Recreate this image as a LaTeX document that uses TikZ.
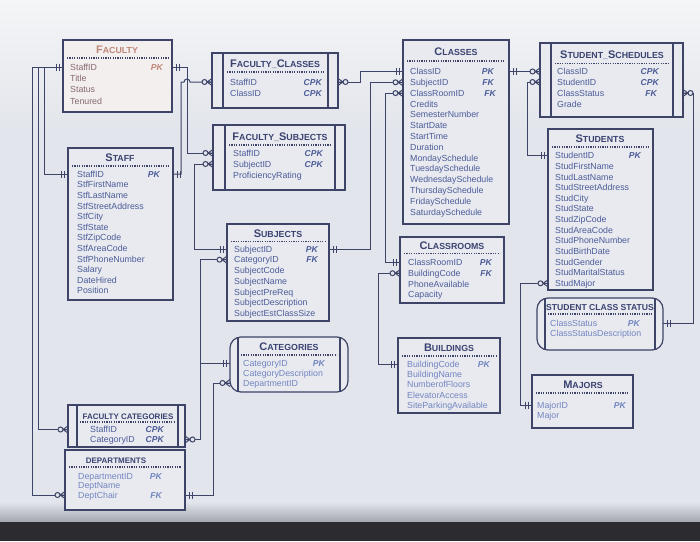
\documentclass[tikz,border=0pt]{standalone}
\usepackage{fontspec}
\setmainfont{Liberation Sans}
\usetikzlibrary{calc}
\definecolor{bgc}{HTML}{E2E5EB}
\definecolor{bgtop}{HTML}{F4F5F7}
\definecolor{boxc}{HTML}{E8EAF0}
\definecolor{linec}{HTML}{3D4468}
\definecolor{ttlc}{HTML}{3A4270}
\definecolor{fldc}{HTML}{4C5C98}
\definecolor{fldl}{HTML}{7385C0}
\definecolor{glarec}{HTML}{F3EFEF}
\definecolor{facc}{HTML}{C08676}
\definecolor{facd}{HTML}{866870}
\definecolor{bezel}{HTML}{2C2C30}
\definecolor{bezgray}{HTML}{A4A6AD}
\newcommand\scT[2]{{\fontsize{11}{11}\selectfont #1}{\fontsize{8.8}{9}\selectfont #2}}
\newcommand\flds[6][]{\foreach \fx [count=\i from 0] in {#6}
  {\node[fld,#1] (#2-\i) at (#3,{#4+\i*#5+3.2}) {\fx};}}
\newcommand\kk[4][]{\node[key,#1] (#2k) at (#2.base -| #3,0) {#4};}
\newcommand\ebx[6][]{\node[ebox,#1,minimum width={#5-#3},minimum height={#6-#4}] (#2) at (#3,#4) {};}
\newcommand\dsep[3]{\draw[dotsep] (#1,#3) -- (#2,#3);}
\tikzset{
  conn/.style={draw=linec, line width=1pt},
  markl/.style={draw=linec, line width=1pt},
  ebox/.style={draw=linec, fill=boxc, line width=1.2pt, inner sep=0pt, outer sep=0pt, anchor=north west, rectangle},
  ebl/.style={draw=linec, line width=1.1pt},
  fld/.style={text=fldc, font=\fontsize{8.8}{9}\selectfont, inner sep=0pt, anchor=base west, text height=6.4pt, text depth=0pt},
  key/.style={text=fldc, font=\fontsize{8.6}{9}\selectfont\bfseries\itshape, inner sep=0pt, anchor=base east, text height=6.4pt, text depth=0pt},
  ttl/.style={text=ttlc, font=\bfseries, inner sep=0pt, text height=7pt, text depth=0pt},
  dotsep/.style={draw=linec, line width=1.1pt, dash pattern=on 1.1pt off 1.3pt},
  oneL/.pic={\draw[markl] (-4,-3.5)--(-4,3.5) (-7,-3.5)--(-7,3.5);},
  oneR/.pic={\draw[markl] (4,-3.5)--(4,3.5) (7,-3.5)--(7,3.5);},
  zmL/.pic={\draw[markl] (-5,0)--(0,-3.5) (-5,0)--(0,3.5) (-5,0)--(0,0);
            \draw[markl,fill=bgc] (-7.5,0) circle[radius=2.5pt];},
  zmR/.pic={\draw[markl] (5,0)--(0,-3.5) (5,0)--(0,3.5) (5,0)--(0,0);
            \draw[markl,fill=bgc] (7.5,0) circle[radius=2.5pt];}
}
\begin{document}
\begin{tikzpicture}[x=1pt,y=-1pt]
\useasboundingbox (0,0) rectangle (700,541);
% background
\fill[bgc] (0,0) rectangle (700,541);
\shade[top color=bgtop, bottom color=bgc] (0,0) rectangle (700,130);
\shade[top color=bgc, bottom color=bezgray] (0,502) rectangle (700,522);
\fill[bezel] (0,522) rectangle (700,541);

% ---------- entities ----------
% FACULTY
\ebx[fill=glarec]{faculty}{63}{40}{172}{112}
\node[ttl,text=facc] (faculty-t) at (117,49.5) {\scT{F}{ACULTY}};
\dsep{67}{168}{58}
\flds[text=facd]{fac}{70}{67}{11.3}{StaffID,Title,Status,Tenured}
\kk[text=facc]{fac-0}{163}{PK}

% FACULTY_CLASSES
\ebx{fclasses}{212}{53}{338}{108}
\draw[ebl] (223,53)--(223,108) (328,53)--(328,108);
\node[ttl] (fclasses-t) at (275,63.5) {\scT{F}{ACULTY\_}\scT{C}{LASSES}};
\dsep{227}{324}{72}
\flds{fcl}{230}{82}{11}{StaffID,ClassID}
\kk{fcl-0}{322}{CPK}
\kk{fcl-1}{322}{CPK}

% FACULTY_SUBJECTS
\ebx{fsub}{213}{125}{345}{190}
\draw[ebl] (225,125)--(225,190) (335,125)--(335,190);
\node[ttl] (fsub-t) at (280,136.5) {\scT{F}{ACULTY\_}\scT{S}{UBJECTS}};
\dsep{229}{331}{145}
\flds{fs}{233}{153}{11}{StaffID,SubjectID,ProficiencyRating}
\kk{fs-0}{323}{CPK}
\kk{fs-1}{323}{CPK}

% CLASSES
\ebx{classes}{403}{40}{509}{224}
\node[ttl] (classes-t) at (456,52) {\scT{C}{LASSES}};
\dsep{407}{505}{61}
\flds{cls}{410}{71.5}{10.8}{ClassID,SubjectID,ClassRoomID,Credits,SemesterNumber,StartDate,StartTime,Duration,MondaySchedule,TuesdaySchedule,WednesdaySchedule,ThursdaySchedule,FridaySchedule,SaturdaySchedule}
\kk{cls-0}{494}{PK}
\kk{cls-1}{494}{FK}
\kk{cls-2}{496}{FK}

% STUDENT_SCHEDULES
\ebx{schedules}{540}{43}{683}{117}
\draw[ebl] (551,43)--(551,117) (673,43)--(673,117);
\node[ttl] (schedules-t) at (612,55) {\scT{S}{TUDENT\_}\scT{S}{CHEDULES}};
\dsep{555}{669}{63.5}
\flds{ss}{557}{71}{11}{ClassID,StudentID,ClassStatus,Grade}
\kk{ss-0}{659}{CPK}
\kk{ss-1}{659}{CPK}
\kk{ss-2}{657}{FK}

% STAFF
\ebx{staff}{68}{148}{173}{300}
\node[ttl] (staff-t) at (120,158) {\scT{S}{TAFF}};
\dsep{72}{169}{166}
\flds{stf}{77}{174}{10.6}{StaffID,StfFirstName,StfLastName,StfStreetAddress,StfCity,StfState,StfZipCode,StfAreaCode,StfPhoneNumber,Salary,DateHired,Position}
\kk{stf-0}{160}{PK}

% SUBJECTS
\ebx{subjects}{227}{224}{329}{321}
\node[ttl] (subjects-t) at (278,233.5) {\scT{S}{UBJECTS}};
\dsep{231}{325}{241.5}
\flds{sub}{234}{249}{10.7}{SubjectID,CategoryID,SubjectCode,SubjectName,SubjectPreReq,SubjectDescription,SubjectEstClassSize}
\kk{sub-0}{318}{PK}
\kk{sub-1}{318}{FK}

% STUDENTS
\ebx{students}{548}{129}{653}{290}
\node[ttl] (students-t) at (600,139) {\scT{S}{TUDENTS}};
\dsep{552}{649}{147}
\flds{stu}{555}{155.5}{10.65}{StudentID,StudFirstName,StudLastName,StudStreetAddress,StudCity,StudState,StudZipCode,StudAreaCode,StudPhoneNumber,StudBirthDate,StudGender,StudMaritalStatus,StudMajor}
\kk{stu-0}{641}{PK}

% CLASSROOMS
\ebx{classrooms}{400}{237}{504}{303}
\node[ttl] (classrooms-t) at (452,246) {\scT{C}{LASSROOMS}};
\dsep{404}{500}{253.5}
\flds{crm}{408}{262.5}{10.7}{ClassRoomID,BuildingCode,PhoneAvailable,Capacity}
\kk{crm-0}{492}{PK}
\kk{crm-1}{492}{FK}

% STUDENT CLASS STATUS
\ebx[rounded corners=11pt]{scs}{537}{298}{663}{350}
\draw[ebl] (545,298.5)--(545,349.5) (655,298.5)--(655,349.5);
\node[ttl] (scs-t) at (600,307) {{\fontsize{8.6}{9}\selectfont STUDENT CLASS STATUS}};
\dsep{548}{652}{314}
\flds[text=fldl]{scf}{550}{323}{10.5}{ClassStatus,ClassStatusDescription}
\kk[text=fldl]{scf-0}{640}{PK}

% CATEGORIES
\ebx[rounded corners=11pt]{categories}{230}{337}{348}{392}
\draw[ebl] (238,337.5)--(238,391.5) (340,337.5)--(340,391.5);
\node[ttl] (categories-t) at (289,347) {\scT{C}{ATEGORIES}};
\dsep{241}{337}{355}
\flds[text=fldl]{cat}{243}{363}{10}{CategoryID,CategoryDescription,DepartmentID}
\kk[text=fldl]{cat-0}{325}{PK}

% BUILDINGS
\ebx{buildings}{398}{338}{500}{413}
\node[ttl] (buildings-t) at (449,348) {\scT{B}{UILDINGS}};
\dsep{402}{496}{356}
\flds[text=fldl]{bld}{407}{364}{10.3}{BuildingCode,BuildingName,NumberofFloors,ElevatorAccess,SiteParkingAvailable}
\kk[text=fldl]{bld-0}{490}{PK}

% MAJORS
\ebx{majors}{532}{375}{633}{428}
\node[ttl] (majors-t) at (583,385) {\scT{M}{AJORS}};
\dsep{536}{629}{393}
\flds[text=fldl]{maj}{537}{405}{10.5}{MajorID,Major}
\kk[text=fldl]{maj-0}{626}{PK}

% FACULTY CATEGORIES
\ebx{fcat}{68}{405}{185}{447}
\draw[ebl] (77,405)--(77,447) (178,405)--(178,447);
\node[ttl] (fcat-t) at (128,415.5) {{\fontsize{8}{9}\selectfont FACULTY CATEGORIES}};
\dsep{80}{175}{422}
\flds{fct}{90}{429.5}{10}{StaffID,CategoryID}
\kk{fct-0}{164}{CPK}
\kk{fct-1}{164}{CPK}

% DEPARTMENTS
\ebx{departments}{65}{450}{185}{510}
\node[ttl] (departments-t) at (116,460) {{\fontsize{8}{9}\selectfont DEPARTMENTS}};
\dsep{69}{181}{467}
\flds[text=fldl]{dep}{78}{476}{9.5}{DepartmentID,DeptName,DeptChair}
\kk[text=fldl]{dep-0}{162}{PK}
\kk[text=fldl]{dep-2}{162}{FK}

% ---------- routing columns ----------
\coordinate (v32) at (32,0);
\coordinate (v38) at (38,0);
\coordinate (v44) at (44,0);
\coordinate (v181) at (181,0);
\coordinate (v187) at (187,0);
\coordinate (v194) at (194,0);
\coordinate (v200) at (200,0);
\coordinate (v213) at (213,0);
\coordinate (v360) at (360,0);
\coordinate (v370) at (370,0);
\coordinate (v378) at (378,0);
\coordinate (v385) at (385,0);
\coordinate (v520) at (520,0);
\coordinate (v527) at (527,0);
\coordinate (v693) at (693,0);

% ---------- connectors ----------
\draw[conn] (fac-0 -| faculty.west) -- (fac-0 -| v32) |- (dep-2 -| departments.west);
\draw[conn] (fac-0 -| v38) |- (fct-0 -| fcat.west);
\draw[conn] (fac-0 -| v44) |- (stf-0 -| staff.west);
\draw[conn] (fac-0 -| faculty.east) -- (fac-0 -| v187) |- (fs-0 -| fsub.west);
\draw[conn] (stf-0 -| staff.east) -- (stf-0 -| v181) -- (fcl-0 -| v181)
   -- ($(fcl-0 -| v187)+(-3,0)$) arc[start angle=180, end angle=0, radius=3pt]
   -- (fcl-0 -| fclasses.west);
\draw[conn] (fs-1 -| fsub.west) -- (fs-1 -| v194) |- (sub-0 -| subjects.west);
\draw[conn] (sub-1 -| subjects.west) -- (sub-1 -| v200) |- (fct-1 -| fcat.east);
\draw[conn] (cat-0 -| categories.west) -- (cat-0 -| v200);
\draw[conn] (cat-2 -| categories.west) -- (cat-2 -| v213) |- (dep-2 -| departments.east);
\draw[conn] (fcl-0 -| fclasses.east) -- (fcl-0 -| v360) |- (cls-0 -| classes.west);
\draw[conn] (sub-0 -| subjects.east) -- (sub-0 -| v370) |- (cls-1 -| classes.west);
\draw[conn] (cls-2 -| classes.west) -- (cls-2 -| v385) |- (crm-0 -| classrooms.west);
\draw[conn] (crm-1 -| classrooms.west) -- (crm-1 -| v378) |- (bld-0 -| buildings.west);
\draw[conn] (cls-0 -| classes.east) -- (cls-0 -| schedules.west);
\draw[conn] (stu-0 -| students.west) -- (stu-0 -| v527) |- (ss-1 -| schedules.west);
\draw[conn] (ss-2 -| schedules.east) -- (ss-2 -| v693) |- (scf-0 -| scs.east);
\draw[conn] (stu-12 -| students.west) -- (stu-12 -| v520) |- (maj-0 -| majors.west);

% ---------- end marks ----------
\pic at (fac-0 -| faculty.west) {oneL};
\pic at (dep-2 -| departments.west) {zmL};
\pic at (fct-0 -| fcat.west) {zmL};
\pic at (stf-0 -| staff.west) {oneL};
\pic at (fac-0 -| faculty.east) {oneR};
\pic at (fs-0 -| fsub.west) {zmL};
\pic at (stf-0 -| staff.east) {oneR};
\pic at (fcl-0 -| fclasses.west) {zmL};
\pic at (fs-1 -| fsub.west) {zmL};
\pic at (sub-0 -| subjects.west) {oneL};
\pic at (sub-1 -| subjects.west) {zmL};
\pic at (fct-1 -| fcat.east) {zmR};
\pic at (cat-0 -| categories.west) {oneL};
\pic at (cat-2 -| categories.west) {zmL};
\pic at (dep-2 -| departments.east) {oneR};
\pic at (fcl-0 -| fclasses.east) {zmR};
\pic at (cls-0 -| classes.west) {oneL};
\pic at (sub-0 -| subjects.east) {oneR};
\pic at (cls-1 -| classes.west) {zmL};
\pic at (cls-2 -| classes.west) {zmL};
\pic at (crm-0 -| classrooms.west) {oneL};
\pic at (crm-1 -| classrooms.west) {zmL};
\pic at (bld-0 -| buildings.west) {oneL};
\pic at (cls-0 -| classes.east) {oneR};
\pic at (cls-0 -| schedules.west) {zmL};
\pic at (stu-0 -| students.west) {oneL};
\pic at (ss-1 -| schedules.west) {zmL};
\pic at (ss-2 -| schedules.east) {zmR};
\pic at (scf-0 -| scs.east) {oneR};
\pic at (stu-12 -| students.west) {zmL};
\pic at (maj-0 -| majors.west) {oneL};
\end{tikzpicture}
\end{document}
